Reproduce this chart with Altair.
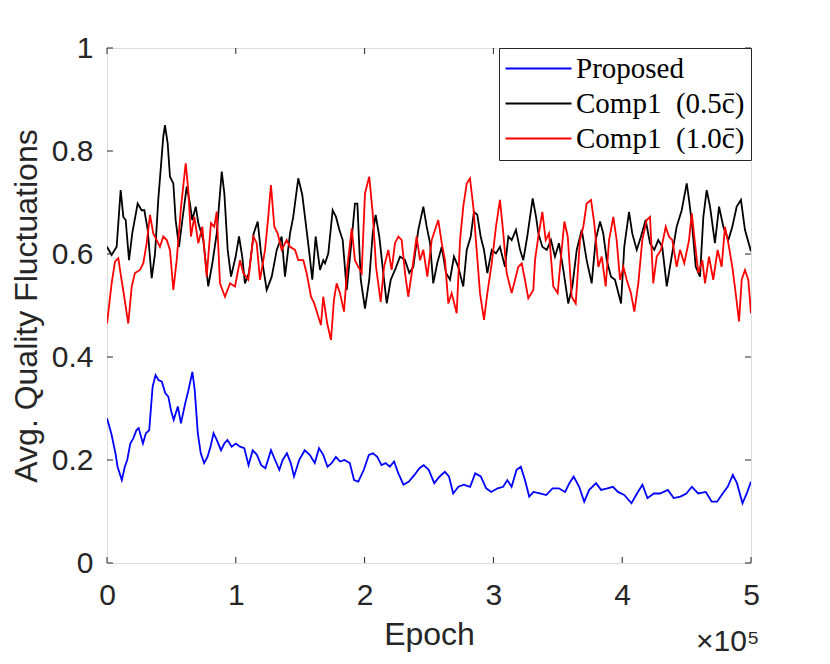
import altair as alt
import pandas as pd

# ---- data (epoch in units of 1e5) ----
series_names = ["Proposed", "Comp1\u00a0 (0.5c\u0304)", "Comp1\u00a0 (1.0c\u0304)"]
series_colors = ["#0000FF", "#000000", "#FF0000"]

proposed_epoch = [0, 0.033, 0.066, 0.082, 0.115, 0.138, 0.157, 0.181, 0.204, 0.229,
                  0.246, 0.279, 0.302, 0.328, 0.354, 0.377, 0.400, 0.426, 0.452, 0.476,
                  0.499, 0.518, 0.550, 0.574, 0.607, 0.630, 0.663, 0.681, 0.705, 0.728,
                  0.754, 0.780, 0.804, 0.827, 0.852, 0.885, 0.911, 0.935, 0.968, 1.000,
                  1.033, 1.066, 1.099, 1.131, 1.164, 1.197, 1.230, 1.273, 1.305, 1.338,
                  1.364, 1.397, 1.427, 1.452, 1.492, 1.535, 1.574, 1.613, 1.646, 1.679,
                  1.712, 1.744, 1.777, 1.810, 1.843, 1.885, 1.918, 1.951, 1.994, 2.033,
                  2.065, 2.098, 2.131, 2.164, 2.196, 2.229, 2.262, 2.302, 2.344, 2.387,
                  2.426, 2.459, 2.498, 2.541, 2.583, 2.623, 2.655, 2.688, 2.728, 2.770,
                  2.819, 2.859, 2.902, 2.944, 2.983, 3.033, 3.076, 3.108, 3.141, 3.180,
                  3.213, 3.245, 3.278, 3.311, 3.361, 3.410, 3.459, 3.508, 3.557, 3.590,
                  3.623, 3.666, 3.705, 3.744, 3.797, 3.836, 3.885, 3.928, 3.967, 4.016,
                  4.072, 4.115, 4.157, 4.196, 4.246, 4.294, 4.354, 4.400, 4.452, 4.498,
                  4.541, 4.590, 4.649, 4.695, 4.737, 4.780, 4.819, 4.859, 4.891, 4.934,
                  4.967, 5.0]
proposed_value = [0.281, 0.252, 0.213, 0.187, 0.161, 0.187, 0.200, 0.232, 0.242, 0.258,
                  0.262, 0.232, 0.252, 0.258, 0.342, 0.365, 0.355, 0.352, 0.330, 0.323,
                  0.294, 0.278, 0.304, 0.271, 0.310, 0.333, 0.371, 0.336, 0.252, 0.213,
                  0.194, 0.206, 0.226, 0.252, 0.239, 0.219, 0.232, 0.239, 0.226, 0.232,
                  0.226, 0.223, 0.190, 0.219, 0.210, 0.190, 0.184, 0.219, 0.200, 0.181,
                  0.200, 0.213, 0.194, 0.168, 0.200, 0.219, 0.210, 0.194, 0.223, 0.210,
                  0.187, 0.194, 0.206, 0.197, 0.200, 0.194, 0.161, 0.158, 0.181, 0.210,
                  0.213, 0.206, 0.190, 0.194, 0.187, 0.197, 0.174, 0.152, 0.158, 0.171,
                  0.184, 0.190, 0.181, 0.155, 0.168, 0.177, 0.168, 0.135, 0.148, 0.152,
                  0.148, 0.174, 0.168, 0.145, 0.138, 0.145, 0.148, 0.161, 0.148, 0.181,
                  0.187, 0.161, 0.129, 0.138, 0.135, 0.132, 0.145, 0.145, 0.138, 0.155,
                  0.168, 0.148, 0.119, 0.142, 0.155, 0.142, 0.145, 0.148, 0.138, 0.132,
                  0.116, 0.135, 0.152, 0.126, 0.135, 0.135, 0.142, 0.126, 0.129, 0.135,
                  0.148, 0.135, 0.138, 0.119, 0.119, 0.135, 0.148, 0.171, 0.155, 0.116,
                  0.135, 0.158]

comp05_epoch = [0.0, 0.036, 0.075, 0.106, 0.127, 0.145, 0.171, 0.196, 0.238, 0.269,
                0.290, 0.316, 0.347, 0.373, 0.398, 0.437, 0.450, 0.471, 0.489, 0.515,
                0.533, 0.559, 0.585, 0.619, 0.644, 0.662, 0.689, 0.709, 0.748, 0.786,
                0.818, 0.852, 0.891, 0.911, 0.937, 0.963, 0.999, 1.025, 1.050, 1.071,
                1.102, 1.139, 1.170, 1.196, 1.240, 1.279, 1.318, 1.356, 1.382, 1.421,
                1.446, 1.485, 1.516, 1.537, 1.568, 1.594, 1.620, 1.654, 1.679,
                1.693, 1.718, 1.752, 1.778, 1.804, 1.830, 1.861, 1.892, 1.925, 1.944,
                1.970, 2.003, 2.036, 2.063, 2.086, 2.114, 2.145, 2.172, 2.203, 2.236,
                2.275, 2.314, 2.347, 2.378, 2.417, 2.456, 2.482, 2.508, 2.533, 2.564,
                2.599, 2.632, 2.663, 2.694, 2.727, 2.766, 2.793, 2.824, 2.849, 2.875,
                2.901, 2.927, 2.953, 2.987, 3.020, 3.051, 3.090, 3.116, 3.142, 3.175,
                3.207, 3.232, 3.263, 3.305, 3.331, 3.349,
                3.380, 3.414, 3.447, 3.478, 3.509, 3.543, 3.581, 3.613, 3.647, 3.686,
                3.724, 3.763, 3.794, 3.828, 3.853, 3.880, 3.913, 3.944, 3.991, 4.016,
                4.053, 4.078, 4.113, 4.146, 4.182, 4.216, 4.249, 4.280, 4.311, 4.346,
                4.384, 4.423, 4.462, 4.501, 4.519, 4.544, 4.571, 4.604, 4.630, 4.656,
                4.682, 4.720, 4.752, 4.785, 4.824, 4.855, 4.889, 4.922, 4.953, 5.0]
comp05_value = [0.614, 0.598, 0.614, 0.724, 0.672, 0.666, 0.588, 0.640, 0.698, 0.685,
                0.685, 0.647, 0.553, 0.601, 0.705, 0.828, 0.850, 0.815, 0.750, 0.737,
                0.666, 0.614, 0.666, 0.731, 0.698, 0.666, 0.692, 0.660, 0.627, 0.537,
                0.582, 0.640, 0.760, 0.718, 0.608, 0.556, 0.595, 0.634, 0.595, 0.543,
                0.563, 0.640, 0.663, 0.601, 0.530, 0.556, 0.608, 0.634, 0.556, 0.640,
                0.672, 0.747, 0.715, 0.672, 0.608, 0.550, 0.634, 0.569, 0.588,
                0.582, 0.601, 0.685, 0.672, 0.647, 0.627, 0.530, 0.608, 0.698, 0.698,
                0.550, 0.494, 0.550, 0.640, 0.676, 0.634, 0.563, 0.504, 0.550, 0.569,
                0.595, 0.588, 0.563, 0.575, 0.647, 0.692, 0.653, 0.621, 0.543, 0.582,
                0.614, 0.563, 0.550, 0.595, 0.575, 0.537, 0.608, 0.634, 0.682, 0.676,
                0.634, 0.608, 0.563, 0.608, 0.601, 0.614, 0.575, 0.634, 0.627, 0.647,
                0.608, 0.588, 0.634, 0.708, 0.672, 0.640,
                0.614, 0.608, 0.627, 0.595, 0.621, 0.569, 0.504, 0.537, 0.608, 0.647,
                0.588, 0.543, 0.627, 0.663, 0.640, 0.588, 0.556, 0.550, 0.504, 0.614,
                0.682, 0.640, 0.608, 0.634, 0.666, 0.621, 0.608, 0.627, 0.614, 0.537,
                0.595, 0.653, 0.685, 0.737, 0.705, 0.653, 0.575, 0.556, 0.672, 0.724,
                0.692, 0.621, 0.692, 0.653, 0.627, 0.653, 0.692, 0.705, 0.647, 0.605]

comp10_epoch = [0.0, 0.036, 0.062, 0.088, 0.109, 0.134, 0.165, 0.192, 0.217, 0.256,
                0.282, 0.308, 0.334, 0.359, 0.386, 0.411, 0.437, 0.464, 0.489, 0.515,
                0.541, 0.575, 0.611, 0.631, 0.652, 0.678, 0.709, 0.740, 0.774, 0.807,
                0.833, 0.852, 0.877, 0.916, 0.955, 0.994, 1.033, 1.058, 1.097, 1.136,
                1.162, 1.188, 1.227, 1.252, 1.273, 1.299, 1.325, 1.356, 1.395, 1.421,
                1.460, 1.485, 1.524, 1.550, 1.584, 1.609, 1.641, 1.661, 1.679,
                1.710, 1.739, 1.762, 1.783, 1.809, 1.840, 1.866, 1.900, 1.925, 1.951,
                1.977, 2.003, 2.036, 2.063, 2.089, 2.125, 2.151, 2.184, 2.210, 2.236,
                2.262, 2.288, 2.314, 2.339, 2.366, 2.404, 2.430, 2.456, 2.487, 2.521,
                2.547, 2.572, 2.599, 2.624, 2.650, 2.676, 2.715, 2.741, 2.766, 2.793,
                2.818, 2.844, 2.870, 2.896, 2.927, 2.953, 2.987, 3.020, 3.051, 3.077,
                3.103, 3.142, 3.168, 3.193, 3.220, 3.245, 3.271, 3.310, 3.323, 3.349,
                3.380, 3.406, 3.432, 3.465, 3.499, 3.525, 3.551, 3.577, 3.608, 3.639,
                3.672, 3.698, 3.724, 3.758, 3.783, 3.815, 3.841, 3.872, 3.898, 3.931,
                3.957, 3.983, 4.009, 4.035, 4.068, 4.094, 4.125, 4.156, 4.190, 4.216,
                4.241, 4.268, 4.301, 4.338, 4.363, 4.389, 4.423, 4.449, 4.482, 4.519,
                4.540, 4.565, 4.591, 4.622, 4.643, 4.674, 4.707, 4.741, 4.772, 4.798,
                4.824, 4.855, 4.881, 4.907, 4.928, 4.953, 4.979, 5.0]
comp10_value = [0.465, 0.543, 0.585, 0.592, 0.556, 0.517, 0.465, 0.537, 0.563, 0.569,
                0.582, 0.621, 0.676, 0.640, 0.627, 0.614, 0.634, 0.627, 0.608, 0.530,
                0.588, 0.692, 0.776, 0.724, 0.634, 0.672, 0.621, 0.653, 0.556, 0.660,
                0.653, 0.682, 0.543, 0.517, 0.543, 0.537, 0.588, 0.563, 0.550, 0.634,
                0.621, 0.550, 0.608, 0.672, 0.734, 0.653, 0.640, 0.608, 0.627, 0.614,
                0.608, 0.588, 0.588, 0.563, 0.517, 0.504, 0.478, 0.462, 0.517,
                0.465, 0.433, 0.511, 0.543, 0.524, 0.488, 0.575, 0.650, 0.588, 0.575,
                0.563, 0.718, 0.750, 0.679, 0.575, 0.507, 0.575, 0.608, 0.569, 0.621,
                0.634, 0.627, 0.563, 0.517, 0.563, 0.634, 0.588, 0.608, 0.556, 0.627,
                0.647, 0.666, 0.621, 0.588, 0.504, 0.524, 0.485, 0.627, 0.692, 0.737,
                0.747, 0.692, 0.608, 0.524, 0.472, 0.524, 0.582, 0.653, 0.705, 0.640,
                0.563, 0.524, 0.550, 0.575, 0.582, 0.550, 0.514, 0.530, 0.588, 0.634,
                0.682, 0.627, 0.640, 0.537, 0.524, 0.595, 0.663, 0.634, 0.517, 0.504,
                0.627, 0.653, 0.698, 0.705, 0.660, 0.575, 0.595, 0.537, 0.627, 0.672,
                0.627, 0.550, 0.575, 0.550, 0.524, 0.488, 0.543, 0.627, 0.666, 0.672,
                0.543, 0.595, 0.608, 0.653, 0.634, 0.627, 0.575, 0.608, 0.582, 0.627,
                0.679, 0.621, 0.563, 0.588, 0.543, 0.595, 0.550, 0.608, 0.575, 0.653,
                0.621, 0.575, 0.524, 0.469, 0.550, 0.569, 0.550, 0.485]

x_ticks = [0, 1, 2, 3, 4, 5]
y_ticks = [0, 0.2, 0.4, 0.6, 0.8, 1]

rows = []
for name, ep, val in [(series_names[0], proposed_epoch, proposed_value),
                      (series_names[1], comp05_epoch, comp05_value),
                      (series_names[2], comp10_epoch, comp10_value)]:
    for i, (e, v) in enumerate(zip(ep, val)):
        rows.append({"epoch": e, "value": v, "series": name, "order": i})
df = pd.DataFrame(rows)
xt = pd.DataFrame({"epoch": x_ticks})
yt = pd.DataFrame({"value": y_ticks})

W, H = 644, 515
TL = 6
AX = "#262626"
FONT = "Liberation Sans"

x_scale = alt.Scale(domain=[0, 5], nice=False, zero=False)
y_scale = alt.Scale(domain=[0, 1], nice=False, zero=False)

x_axis = alt.Axis(title="Epoch", values=x_ticks, format="~g", grid=False,
                  domain=False, ticks=False, tickSize=0, labelColor=AX,
                  labelFont=FONT, labelFontSize=30, labelPadding=17,
                  labelFlush=False, titleFont=FONT, titleFontSize=32,
                  titleFontWeight="normal", titleColor=AX, titlePadding=9)
y_axis = alt.Axis(title="Avg. Quality Fluctuations", values=y_ticks, format="~g",
                  grid=False, domain=False, ticks=False, tickSize=0,
                  labelColor=AX, labelFont=FONT, labelFontSize=30,
                  labelPadding=14, labelFlush=False, titleFont=FONT,
                  titleFontSize=32, titleFontWeight="normal", titleColor=AX,
                  titlePadding=8)

lines = alt.Chart(df).mark_line(strokeWidth=1.8, clip=True).encode(
    x=alt.X("epoch:Q", scale=x_scale, axis=x_axis),
    y=alt.Y("value:Q", scale=y_scale, axis=y_axis),
    color=alt.Color("series:N",
                    scale=alt.Scale(domain=series_names, range=series_colors),
                    legend=alt.Legend(orient="top-right", title=None,
                                      symbolType="M-3,0H3", symbolSize=484,
                                      symbolStrokeWidth=2, symbolOffset=19,
                                      labelFont="Liberation Serif", labelFontSize=29,
                                      labelColor="black", labelLimit=400, labelOffset=23,
                                      padding=6, rowPadding=5, offset=0,
                                      strokeColor=AX, fillColor="white", cornerRadius=0)),
    order="order:Q",
)

# inward tick marks on all four sides of the box
tick_left = alt.Chart(yt).mark_rule(color=AX, strokeWidth=1).encode(
    y=alt.Y("value:Q", scale=y_scale, axis=y_axis), x=alt.value(0), x2=alt.value(TL))
tick_right = alt.Chart(yt).mark_rule(color=AX, strokeWidth=1).encode(
    y=alt.Y("value:Q", scale=y_scale, axis=y_axis), x=alt.value(W - TL), x2=alt.value(W))
tick_bottom = alt.Chart(xt).mark_rule(color=AX, strokeWidth=1).encode(
    x=alt.X("epoch:Q", scale=x_scale, axis=x_axis), y=alt.value(H - TL), y2=alt.value(H))
tick_top = alt.Chart(xt).mark_rule(color=AX, strokeWidth=1).encode(
    x=alt.X("epoch:Q", scale=x_scale, axis=x_axis), y=alt.value(0), y2=alt.value(TL))

chart = alt.layer(lines, tick_left, tick_right, tick_bottom, tick_top).properties(
    width=W, height=H,
    padding={"left": 99, "top": 40, "right": 71, "bottom": 101},
    autosize=alt.AutoSizeParams(type="none"),
    title=alt.TitleParams(text="\u00d710\u2075", orient="bottom", anchor="end",
                          font=FONT, fontSize=30, fontWeight="normal", color=AX,
                          offset=-23),
).configure_view(
    stroke=AX, strokeWidth=1
).configure(background="white")

chart.save("out.html", embed_options={"renderer": "svg", "actions": False})
